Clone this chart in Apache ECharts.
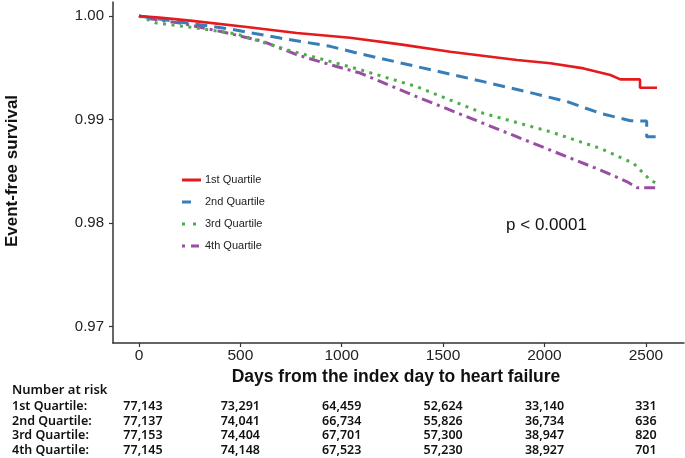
<!DOCTYPE html>
<html>
<head>
<meta charset="utf-8">
<script src="https://cdn.jsdelivr.net/npm/echarts@6/dist/echarts.min.js"></script>
<style>
html,body{margin:0;padding:0;background:#fff;}
#chart{width:685px;height:458px;}
</style>
</head>
<body>
<div id="chart"></div>
<script>
// ---- Data ----
const seriesNames = ['1st Quartile', '2nd Quartile', '3rd Quartile', '4th Quartile'];

const q1Days = [0, 100, 252, 532, 778, 1041, 1289, 1535, 1864, 2029, 2193, 2325, 2374, 2471, 2471, 2555];
const q1Surv = [1.0, 0.99985, 0.99955, 0.99894, 0.99836, 0.9979, 0.99726, 0.99655, 0.99575, 0.99543, 0.99494, 0.9943, 0.99388, 0.99388, 0.99307, 0.99307];

const q2Days = [0, 202, 449, 696, 943, 1074, 1371, 1699, 1946, 2111, 2276, 2424, 2504, 2504, 2555];
const q2Surv = [1.0, 0.99942, 0.99874, 0.99787, 0.99707, 0.99643, 0.99511, 0.99366, 0.99253, 0.99173, 0.9906, 0.98989, 0.98985, 0.98834, 0.98834];

const q3Days = [0, 87, 284, 482, 729, 943, 1091, 1371, 1699, 2029, 2276, 2440, 2522, 2547];
const q3Surv = [1.0, 0.99932, 0.99884, 0.99826, 0.99674, 0.99562, 0.99481, 0.99317, 0.9906, 0.98882, 0.98721, 0.98576, 0.98415, 0.9839];

const q4Days = [0, 54, 202, 415, 612, 778, 943, 1091, 1371, 1699, 2029, 2276, 2408, 2457, 2555];
const q4Surv = [1.0, 0.99974, 0.99932, 0.99845, 0.99755, 0.99626, 0.9953, 0.99449, 0.9922, 0.98963, 0.98705, 0.98512, 0.98399, 0.98341, 0.98341];

const xTicks = [0, 500, 1000, 1500, 2000, 2500];
const yTicks = [0.97, 0.98, 0.99, 1.00];

const riskLabels = ['1st Quartile:', '2nd Quartile:', '3rd Quartile:', '4th Quartile:'];
const riskQ1 = ['77,143', '73,291', '64,459', '52,624', '33,140', '331'];
const riskQ2 = ['77,137', '74,041', '66,734', '55,826', '36,734', '636'];
const riskQ3 = ['77,153', '74,404', '67,701', '57,300', '38,947', '820'];
const riskQ4 = ['77,145', '74,148', '67,523', '57,230', '38,927', '701'];

const pText = 'p < 0.0001';

// ---- Build ----
const colors = ['#E41A1C', '#377EB8', '#4DAF4A', '#984EA3'];
const dashes = ['solid', [12, 7], [3, 5.5], [3, 5, 11, 5]];
const legendDashes = [null, [9, 100], [3, 8], [3, 6, 8, 100]];
const allDays = [q1Days, q2Days, q3Days, q4Days];
const allSurv = [q1Surv, q2Surv, q3Surv, q4Surv];
const riskRows = [riskQ1, riskQ2, riskQ3, riskQ4];

const chart = echarts.init(document.getElementById('chart'), null, {renderer: 'canvas'});

const series = seriesNames.map((n, i) => ({
  name: n,
  type: 'line',
  data: allDays[i].map((d, j) => [d, allSurv[i][j]]),
  showSymbol: false,
  symbol: 'none',
  smooth: false,
  z: 10 - i,
  lineStyle: {color: colors[i], width: i === 0 ? 2.6 : 3, type: dashes[i], cap: 'butt'},
  itemStyle: {color: colors[i]},
  emphasis: {disabled: true}
}));

const axisColor = '#333';
chart.setOption({
  animation: false,
  backgroundColor: '#fff',
  grid: {left: 113, right: 1, top: 2, bottom: 115, containLabel: false},
  xAxis: {
    type: 'value', min: -128, max: 2688,
    axisLine: {show: true, lineStyle: {color: axisColor, width: 1.5}},
    axisTick: {show: true, length: 4, lineStyle: {color: axisColor, width: 1.2}, customValues: xTicks},
    axisLabel: {customValues: xTicks, color: '#222', fontSize: 15.5, fontFamily: 'Liberation Sans, Arial', margin: 5,
      formatter: v => String(v)},
    splitLine: {show: false}
  },
  yAxis: {
    type: 'value', min: 0.96843, max: 1.00135,
    axisLine: {show: true, onZero: false, lineStyle: {color: axisColor, width: 1.5}},
    axisTick: {show: true, length: 4, lineStyle: {color: axisColor, width: 1.2}, customValues: yTicks},
    axisLabel: {customValues: yTicks, color: '#222', fontSize: 15, fontFamily: 'Liberation Sans, Arial', margin: 9,
      formatter: v => v.toFixed(2)},
    splitLine: {show: false}
  },
  series: series
});

// legend, annotations and risk table
const graphics = [];
const legY = [180, 202, 224, 246];
seriesNames.forEach((n, i) => {
  const ls = {stroke: colors[i], lineWidth: 3, lineCap: 'butt'};
  if (legendDashes[i]) ls.lineDash = legendDashes[i];
  graphics.push({type: 'line', shape: {x1: 182, y1: legY[i], x2: 201, y2: legY[i]}, style: ls});
  graphics.push({type: 'text', x: 205, y: legY[i],
    style: {text: n, font: '11px "Liberation Sans", Arial', fill: '#222', align: 'left', verticalAlign: 'middle'}});
});
graphics.push({type: 'text', x: 12, y: 171, rotation: Math.PI / 2,
  style: {text: 'Event-free survival', font: 'bold 17px "Liberation Sans", Arial', fill: '#111', align: 'center', verticalAlign: 'middle'}});
graphics.push({type: 'text', x: 396, y: 377,
  style: {text: 'Days from the index day to heart failure', font: 'bold 17.5px "Liberation Sans", Arial', fill: '#111', align: 'center', verticalAlign: 'middle'}});
graphics.push({type: 'text', x: 546.5, y: 225,
  style: {text: pText, font: '17px "Liberation Sans", Arial', fill: '#111', align: 'center', verticalAlign: 'middle'}});
const tblFont = '600 12.5px "Noto Sans", "Open Sans", sans-serif';
graphics.push({type: 'text', x: 12, y: 390.5,
  style: {text: 'Number at risk', font: '600 13px "Noto Sans", "Open Sans", sans-serif', fill: '#111', align: 'left', verticalAlign: 'middle'}});
const rowY = [406.7, 421.2, 435.9, 450.7];
riskLabels.forEach((lab, r) => {
  graphics.push({type: 'text', x: 12, y: rowY[r],
    style: {text: lab, font: tblFont, fill: '#111', align: 'left', verticalAlign: 'middle'}});
  riskRows[r].forEach((v, c) => {
    const px = chart.convertToPixel({xAxisIndex: 0}, xTicks[c]);
    graphics.push({type: 'text', x: px + (c === 0 ? 4 : 0), y: rowY[r],
      style: {text: v, font: tblFont, fill: '#111', align: 'center', verticalAlign: 'middle'}});
  });
});
chart.setOption({graphic: graphics});
</script>
</body>
</html>
